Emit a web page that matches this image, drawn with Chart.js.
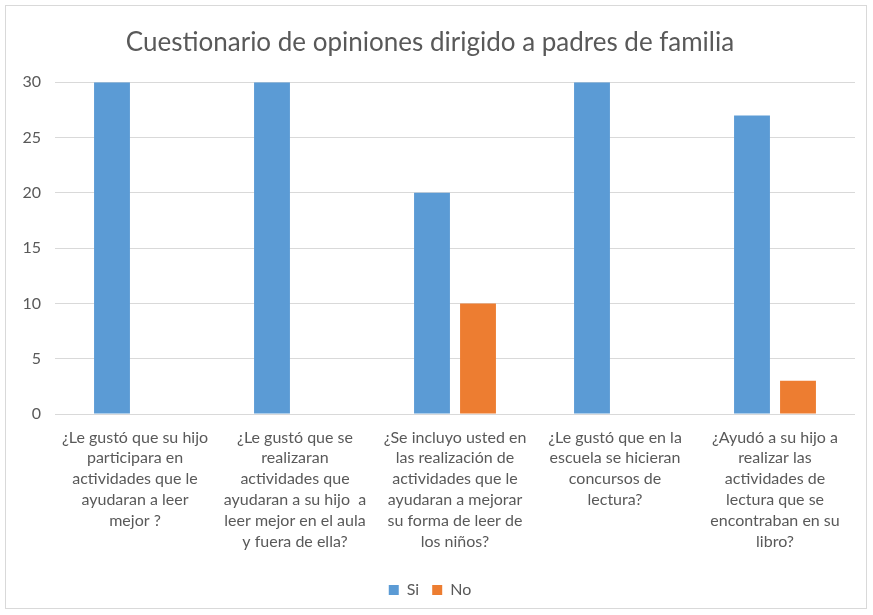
<!DOCTYPE html>
<html>
<head>
<meta charset="utf-8">
<script src="https://cdn.jsdelivr.net/npm/chart.js@4"></script>
<style>
html,body{margin:0;padding:0;background:#fff;}
#wrap{width:873px;height:615px;position:relative;}
</style>
</head>
<body>
<div id="wrap"><canvas id="c" width="873" height="615"></canvas></div>
<script>
const categories = [
  ["¿Le gustó que su hijo", "participara en", "actividades que le", "ayudaran a leer", "mejor ?"],
  ["¿Le gustó que se", "realizaran", "actividades que", "ayudaran a su hijo  a", "leer mejor en el aula", "y fuera de ella?"],
  ["¿Se incluyo usted en", "las realización de", "actividades que le", "ayudaran a mejorar", "su forma de leer de", "los niños?"],
  ["¿Le gustó que en la", "escuela se hicieran", "concursos de", "lectura?"],
  ["¿Ayudó a su hijo a", "realizar las", "actividades de", "lectura que se", "encontraban en su", "libro?"]
];
const siValues = [30, 30, 20, 30, 27];
const noValues = [0, 0, 10, 0, 3];
const yTicks = [0, 5, 10, 15, 20, 25, 30];
const titleText = "Cuestionario de opiniones dirigido a padres de familia";

const FONT = "Lato, 'Open Sans', sans-serif";
const GREY = "#595959";

const borderPlugin = {
  id: 'outerBorder',
  beforeDraw(chart) {
    const ctx = chart.ctx;
    ctx.save();
    ctx.fillStyle = '#fff';
    ctx.fillRect(0, 0, chart.width, chart.height);
    ctx.strokeStyle = '#d9d9d9';
    ctx.lineWidth = 1;
    ctx.strokeRect(5.5, 5.5, chart.width - 12, chart.height - 12);
    ctx.restore();
  }
};

new Chart(document.getElementById('c'), {
  type: 'bar',
  data: {
    labels: categories,
    datasets: [
      { label: 'Si', data: siValues, backgroundColor: '#5b9bd5', categoryPercentage: 0.575, barPercentage: 0.78 },
      { label: 'No', data: noValues, backgroundColor: '#ed7d31', categoryPercentage: 0.575, barPercentage: 0.78 }
    ]
  },
  plugins: [borderPlugin],
  options: {
    responsive: false,
    animation: false,
    layout: { padding: { left: 5, right: 18, top: 19, bottom: 7 } },
    plugins: {
      title: {
        display: true,
        text: titleText,
        color: GREY,
        font: { family: FONT, size: 26, weight: 'normal' },
        padding: { top: 8, bottom: 24 }
      },
      legend: {
        position: 'bottom',
        labels: {
          color: GREY,
          font: { family: FONT, size: 16 },
          boxWidth: 10,
          boxHeight: 10,
          padding: 13
        }
      },
      tooltip: { enabled: false }
    },
    scales: {
      x: {
        grid: { display: false },
        border: { display: false },
        ticks: {
          color: GREY,
          font: { family: FONT, size: 16, lineHeight: 1.3 },
          maxRotation: 0,
          autoSkip: false,
          padding: 5
        },
        afterFit(scale) { scale.height = 155; }
      },
      y: {
        min: 0,
        max: 30,
        afterBuildTicks(scale) { scale.ticks = yTicks.map(v => ({ value: v })); },
        grid: { color: '#d9d9d9', drawTicks: false },
        border: { display: false },
        ticks: {
          color: GREY,
          font: { family: FONT, size: 16 },
          padding: 14
        },
        afterFit(scale) { scale.width = 50; }
      }
    }
  }
});
</script>
</body>
</html>
